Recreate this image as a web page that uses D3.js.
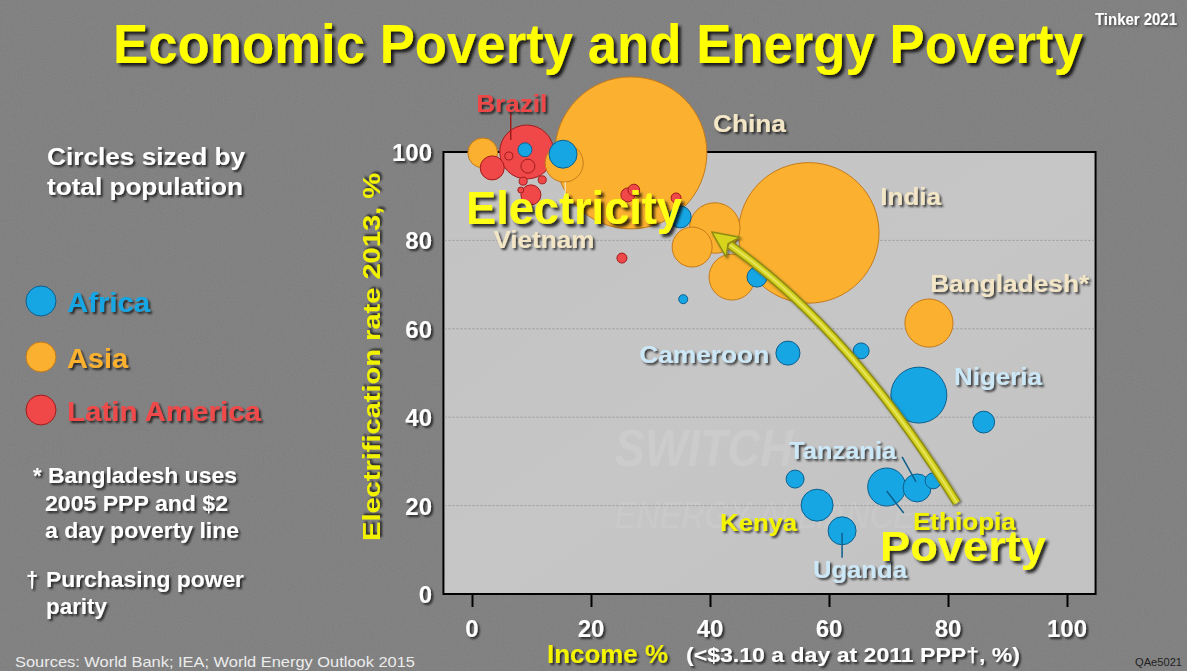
<!DOCTYPE html>
<html>
<head>
<meta charset="utf-8">
<script src="https://cdn.jsdelivr.net/npm/d3@7"></script>
<style>
  html, body { margin: 0; padding: 0; background: #7a7a7a; }
  svg { display: block; }
</style>
</head>
<body>
<svg id="chart" width="1187" height="671"></svg>
<script>
// ---------------- DATA ----------------
const countries = [
  "China","India","Indonesia","Philippines","Pakistan","Bangladesh","Vietnam","Thailand",
  "Brazil","LatAm 2","LatAm 3","LatAm 4","LatAm 5","LatAm 6","LatAm 7","LatAm 8","LatAm 9","LatAm 10","LatAm 11","LatAm 12",
  "Africa 1","Africa 2","Africa 3","Africa 4","Africa 5","Cameroon","Africa 7","Nigeria","Africa 9",
  "Tanzania","Ethiopia","Africa 12","Africa 13","Kenya","Uganda"
];
const regions = [
  "Asia","Asia","Asia","Asia","Asia","Asia","Asia","Asia",
  "Latin America","Latin America","Latin America","Latin America","Latin America","Latin America",
  "Latin America","Latin America","Latin America","Latin America","Latin America","Latin America",
  "Africa","Africa","Africa","Africa","Africa","Africa","Africa","Africa","Africa",
  "Africa","Africa","Africa","Africa","Africa","Africa"
];
// Income poverty, % (<$3.10 a day at 2011 PPP)
const incomePoverty = [
  26.7, 56.6, 40.8, 37.0, 43.7, 76.8, 15.5, 1.8,
  9.2, 3.4, 6.2, 9.4, 8.6, 11.8, 8.2, 9.9, 26.2, 27.2, 34.3, 25.2,
  8.9, 15.3, 35.0, 35.5, 47.9, 53.1, 65.4, 75.1, 86.0,
  74.8, 69.7, 77.5, 54.3, 58.0, 62.2
];
// Electrification rate 2013, %
const electrification = [
  99.8, 81.7, 82.8, 78.5, 71.7, 61.3, 97.5, 99.8,
  100.0, 96.4, 99.1, 96.8, 93.4, 93.7, 91.4, 90.3, 90.3, 91.4, 89.6, 76.0,
  100.5, 99.5, 85.3, 66.7, 71.7, 54.5, 55.0, 45.0, 38.9,
  24.0, 24.2, 25.6, 26.0, 20.1, 14.3
];
// Total population, millions
const population = [
  1357, 1160, 150, 94, 124, 136, 85, 52,
  171, 34, 3.8, 11.5, 3.8, 3.8, 2.1, 23.5, 11.5, 8, 5.9, 5.9,
  11.5, 46, 28, 4.8, 23.5, 34, 15, 184, 28,
  46, 85, 15, 19, 60, 46
];
const regionNames = ["Africa", "Asia", "Latin America"];
const xTicks = [0, 20, 40, 60, 80, 100];
const yTicks = [0, 20, 40, 60, 80, 100];
const gridTicks = [20, 40, 60, 80];

// Country label annotations (anchor in data units)
const labelTexts  = ["Brazil","China","India","Bangladesh*","Vietnam","Cameroon","Nigeria","Tanzania","Ethiopia","Kenya","Uganda"];
const labelX      = [0.7, 40.5, 68.6, 77.0, 3.6, 28.1, 81.0, 53.3, 74.1, 41.7, 57.3];
const labelY      = [109.0, 104.5, 88.1, 68.3, 78.2, 52.3, 47.2, 30.5, 14.5, 14.2, 3.6];
const labelKind   = ["latin","asia","asia","asia","asia","africa","africa","africa","yellow","yellow","africa"];
const labelWidth  = [71, 73, 61, 159, 101, 130, 88, 107, 103, 77, 94];

// Arrow (data units): tail, control, tip
const arrowTail = [81.5, 20.6];
const arrowCtrl = [63.5, 59.7];
const arrowTip  = [40.3, 81.9];

// ---------------- DRAW ----------------
const W = 1187, H = 671;
const svg = d3.select("#chart");
const defs = svg.append("defs");

// noise texture
const nf = defs.append("filter").attr("id", "noise").attr("x", 0).attr("y", 0).attr("width", "100%").attr("height", "100%");
nf.append("feTurbulence").attr("type", "fractalNoise").attr("baseFrequency", 0.85).attr("numOctaves", 2).attr("seed", 3);
nf.append("feColorMatrix").attr("type", "matrix")
  .attr("values", "0.33 0.33 0.33 0 0  0.33 0.33 0.33 0 0  0.33 0.33 0.33 0 0  0 0 0 0 1");

function shadow(id, dx, dy, sd, op) {
  const f = defs.append("filter").attr("id", id).attr("x", "-20%").attr("y", "-30%").attr("width", "150%").attr("height", "170%");
  f.append("feDropShadow").attr("dx", dx).attr("dy", dy).attr("stdDeviation", sd)
    .attr("flood-color", "#000").attr("flood-opacity", op);
}
shadow("sh", 2, 2, 1.2, 0.7);
shadow("shBig", 3, 3, 1.5, 0.8);
shadow("shLight", 1.5, 1.5, 1, 0.45);

const boxGrad = defs.append("linearGradient").attr("id", "boxGrad")
  .attr("x1", 0).attr("y1", 0).attr("x2", 1).attr("y2", 1);
boxGrad.append("stop").attr("offset", "0%").attr("stop-color", "#c3c3c3");
boxGrad.append("stop").attr("offset", "50%").attr("stop-color", "#c6c6c6");
boxGrad.append("stop").attr("offset", "100%").attr("stop-color", "#c2c2c2");

// background
svg.append("rect").attr("width", W).attr("height", H).attr("fill", "#7a7a7a");
svg.append("rect").attr("width", W).attr("height", H).attr("filter", "url(#noise)").attr("opacity", 0.12);

const FONT = "'Liberation Sans', Arial, sans-serif";

function txt(g, o) {
  const t = g.append("text")
    .attr("x", o.x).attr("y", o.y)
    .attr("font-family", FONT)
    .attr("font-weight", o.weight || "bold")
    .attr("font-size", o.size)
    .attr("fill", o.fill)
    .attr("text-anchor", o.anchor || "start")
    .text(o.text);
  if (o.len) t.attr("textLength", o.len).attr("lengthAdjust", "spacingAndGlyphs");
  if (o.filter) t.attr("filter", `url(#${o.filter})`);
  if (o.transform) t.attr("transform", o.transform);
  return t;
}

// scales
const x = d3.scaleLinear().domain([0, 100]).range([472, 1067]);
const y = d3.scaleLinear().domain([0, 100]).range([594, 152]);
const r = d3.scaleSqrt().domain([0, 1357]).range([0, 76]);
const color = d3.scaleOrdinal().domain(regionNames).range(["#17a6e4", "#fbb12f", "#f04848"]);
const strokeC = d3.scaleOrdinal().domain(regionNames).range(["#0d5f8c", "#c57a1b", "#a01c1c"]);

// plot box
const bx0 = x(-4.8), bx1 = x(104.8);
svg.append("rect").attr("x", bx0).attr("y", y(100)).attr("width", bx1 - bx0).attr("height", y(0) - y(100))
  .attr("fill", "url(#boxGrad)").attr("stroke", "#000").attr("stroke-width", 2);

// watermark
const wm = svg.append("g").attr("font-family", FONT).attr("font-style", "italic").attr("font-weight", "bold");
wm.append("text").attr("x", x(24)).attr("y", y(29)).attr("font-size", 52).attr("fill", "#ffffff").attr("opacity", 0.1)
  .attr("textLength", 178).attr("lengthAdjust", "spacingAndGlyphs").text("SWITCH");
wm.append("text").attr("x", x(24)).attr("y", y(15)).attr("font-size", 36).attr("font-weight", "normal").attr("fill", "#ffffff").attr("opacity", 0.08)
  .attr("textLength", 300).attr("lengthAdjust", "spacingAndGlyphs").text("ENERGY ALLIANCE");

// gridlines
svg.append("g").selectAll("line").data(gridTicks).join("line")
  .attr("x1", bx0 + 1).attr("x2", bx1 - 1)
  .attr("y1", d => y(d)).attr("y2", d => y(d))
  .attr("stroke", "#9a9a9a").attr("stroke-width", 1).attr("stroke-dasharray", "2,2");

// x axis
const xAxis = svg.append("g").attr("transform", `translate(0,${y(0)})`)
  .call(d3.axisBottom(x).tickValues(xTicks).tickSize(13).tickFormat(""));
xAxis.select(".domain").remove();
xAxis.selectAll(".tick line").attr("stroke", "#000").attr("stroke-width", 2);
svg.append("g").selectAll("text").data(xTicks).join("text")
  .attr("x", d => x(d)).attr("y", 637)
  .attr("text-anchor", "middle").attr("font-family", FONT).attr("font-weight", "bold")
  .attr("font-size", 24).attr("fill", "#ffffff").attr("filter", "url(#sh)")
  .text(d => d);

// y axis labels
const yAxis = svg.append("g").attr("transform", `translate(${bx0},0)`)
  .call(d3.axisLeft(y).tickValues(yTicks).tickSize(0).tickFormat(""));
yAxis.select(".domain").remove();
svg.append("g").selectAll("text").data(yTicks).join("text")
  .attr("x", 432).attr("y", d => y(d) + 9)
  .attr("text-anchor", "end").attr("font-family", FONT).attr("font-weight", "bold")
  .attr("font-size", 24).attr("fill", "#ffffff").attr("filter", "url(#sh)")
  .text(d => d);

// axis titles
txt(svg, { x: 0, y: 0, text: "Electrification rate 2013, %", size: 23, fill: "#f2f200", anchor: "middle",
  len: 368, filter: "sh", transform: "translate(380,357) rotate(-90)" });
txt(svg, { x: 547, y: 663, text: "Income %", size: 26, fill: "#f4f400", len: 121, filter: "sh" });
txt(svg, { x: 686, y: 662, text: "(<$3.10 a day at 2011 PPP\u2020, %)", size: 21, fill: "#ffffff", len: 334, filter: "sh" });

// bubbles
const data = countries.map((c, i) => ({
  name: c, region: regions[i], inc: incomePoverty[i], el: electrification[i], pop: population[i]
})).sort((a, b) => b.pop - a.pop);

svg.append("g").selectAll("circle").data(data).join("circle")
  .attr("cx", d => x(d.inc)).attr("cy", d => y(d.el)).attr("r", d => r(d.pop))
  .attr("fill", d => color(d.region)).attr("stroke", d => strokeC(d.region)).attr("stroke-width", 1);

// leader lines (anchored on data points)
const byName = Object.fromEntries(data.map(d => [d.name, d]));
const lead = svg.append("g");
function leader(x1, y1, x2, y2, col, w) {
  lead.append("line").attr("x1", x1).attr("y1", y1).attr("x2", x2).attr("y2", y2)
    .attr("stroke", col).attr("stroke-width", w || 1.5);
}
{
  const b = byName["Brazil"];
  leader(x(b.inc) - 16, y(b.el) - 39, x(b.inc) - 16, y(b.el) - 12, "#a01c1c", 1.5);
  const t = byName["Tanzania"];
  leader(x(t.inc) - 15, y(t.el) - 31, x(t.inc) - 1, y(t.el) - 6, "#0d5f8c", 1.5);
  const e = byName["Ethiopia"];
  leader(x(e.inc), y(e.el) + 4, x(e.inc) + 17, y(e.el) + 26, "#0d5f8c", 1.5);
  const u = byName["Uganda"];
  leader(x(u.inc), y(u.el) + 2, x(u.inc), y(u.el) + 27, "#0d5f8c", 1.5);
  const v = byName["Vietnam"];
  leader(x(v.inc) + 1, y(v.el) + 19, x(v.inc) + 1, y(v.el) + 40, "#efe3c3", 1.2);
}

// arrow
{
  const p0 = [x(arrowTail[0]), y(arrowTail[1])];
  const pc = [x(arrowCtrl[0]), y(arrowCtrl[1])];
  const p1 = [x(arrowTip[0]), y(arrowTip[1])];
  const dx = p1[0] - pc[0], dy = p1[1] - pc[1];
  const L = Math.hypot(dx, dy), ux = dx / L, uy = dy / L;
  const headLen = 26, headW = 12;
  const base = [p1[0] - ux * headLen, p1[1] - uy * headLen];
  const path = d3.path();
  path.moveTo(p0[0], p0[1]);
  path.quadraticCurveTo(pc[0], pc[1], base[0] + ux * 4, base[1] + uy * 4);
  const ag = svg.append("g").attr("filter", "url(#shLight)");
  ag.append("path").attr("d", path.toString()).attr("fill", "none").attr("stroke", "#8f8c12").attr("stroke-width", 9).attr("stroke-linecap", "butt");
  ag.append("path").attr("d", path.toString()).attr("fill", "none").attr("stroke", "#d3d11e").attr("stroke-width", 6).attr("stroke-linecap", "butt");
  ag.append("path").attr("d", path.toString()).attr("fill", "none").attr("stroke", "#e6e45a").attr("stroke-width", 2).attr("stroke-linecap", "butt");
  const head = [
    p1,
    [base[0] - uy * headW, base[1] + ux * headW],
    [base[0] + ux * 6, base[1] + uy * 6],
    [base[0] + uy * headW, base[1] - ux * headW]
  ];
  ag.append("path").attr("d", d3.line()(head) + "Z").attr("fill", "#d6d41e").attr("stroke", "#8f8c12").attr("stroke-width", 1.5).attr("stroke-linejoin", "round");
}

// country labels
const kindFill = { asia: "#f3e6c6", africa: "#cce7f6", yellow: "#f4f400", latin: "#ee4646" };
labelTexts.forEach((t, i) => {
  txt(svg, { x: x(labelX[i]), y: y(labelY[i]), text: t, size: 24, fill: kindFill[labelKind[i]],
    len: labelWidth[i], filter: "sh" });
});

// big annotations
txt(svg, { x: 466, y: 224, text: "Electricity", size: 46, fill: "#ffff14", len: 216, filter: "shBig" });
txt(svg, { x: 880, y: 561, text: "Poverty", size: 42, fill: "#ffff14", len: 166, filter: "shBig" });

// title
txt(svg, { x: 113, y: 63, text: "Economic Poverty and Energy Poverty", size: 56, fill: "#ffff00", len: 970, filter: "shBig" });
txt(svg, { x: 1095, y: 25, text: "Tinker 2021", size: 16, fill: "#ffffff", len: 82, filter: "shLight" });

// left panel
txt(svg, { x: 47, y: 165, text: "Circles sized by", size: 23, fill: "#ffffff", len: 198, filter: "sh" });
txt(svg, { x: 47, y: 195, text: "total population", size: 23, fill: "#ffffff", len: 196, filter: "sh" });

const legY = [301, 357, 410];
const legLen = [83, 61, 194];
regionNames.forEach((rn, i) => {
  svg.append("circle").attr("cx", 41).attr("cy", legY[i]).attr("r", 15)
    .attr("fill", color(rn)).attr("stroke", strokeC(rn)).attr("stroke-width", 1);
  txt(svg, { x: 67, y: legY[i] + 11, text: rn, size: 27, fill: color(rn), len: legLen[i], filter: "sh" });
});

txt(svg, { x: 33, y: 483, text: "*", size: 22, fill: "#ffffff", filter: "sh" });
txt(svg, { x: 48, y: 483, text: "Bangladesh uses", size: 22, fill: "#ffffff", len: 189, filter: "sh" });
txt(svg, { x: 45, y: 511, text: "2005 PPP and $2", size: 22, fill: "#ffffff", len: 183, filter: "sh" });
txt(svg, { x: 45, y: 538, text: "a day poverty line", size: 22, fill: "#ffffff", len: 194, filter: "sh" });
txt(svg, { x: 26, y: 587, text: "\u2020", size: 22, fill: "#ffffff", filter: "sh" });
txt(svg, { x: 46, y: 587, text: "Purchasing power", size: 22, fill: "#ffffff", len: 198, filter: "sh" });
txt(svg, { x: 46, y: 614, text: "parity", size: 22, fill: "#ffffff", len: 61, filter: "sh" });

// footer
txt(svg, { x: 15, y: 667, text: "Sources: World Bank; IEA; World Energy Outlook 2015", size: 15, weight: "normal", fill: "#ececec", len: 400 });
txt(svg, { x: 1135, y: 666, text: "QAe5021", size: 11, weight: "normal", fill: "#222222", len: 47 });
</script>
</body>
</html>
